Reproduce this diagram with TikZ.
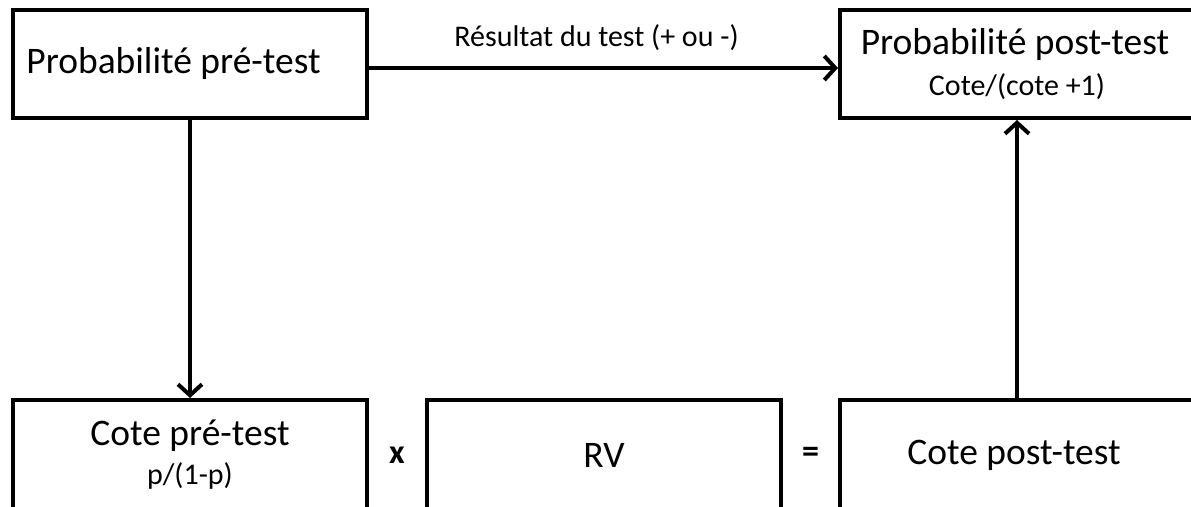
\documentclass[tikz,border=0pt]{standalone}
\usepackage{fontspec}
\setmainfont{Carlito}
\usetikzlibrary{arrows.meta,positioning,calc}

\tikzset{
  boite/.style={rectangle, draw, line width=4pt, minimum width=354pt, minimum height=108pt, inner sep=0pt},
  fleche/.style={line width=4pt, -{Straight Barb[length=11pt,width=24pt,line width=4pt]}},
  grand/.style={font=\fontsize{37.5}{45}\selectfont},
  petit/.style={font=\fontsize{30}{36}\selectfont}
}

\begin{document}
\begin{tikzpicture}[x=1pt,y=-1pt,node distance=278pt]
				\useasboundingbox (0,0) rectangle (1191,506);
				\clip (0,0) rectangle (1191,506);
				\node[boite, grand] (pre) at (190,64) {\hspace*{-33pt}Probabilité pré-test};
				\node[boite, minimum height=110pt, below=of pre, align=center, grand] (cotepre) {Cote pré-test\\[-6pt]{\fontsize{30}{36}\selectfont p/(1-p)}};
				\node[boite, minimum height=110pt, right=56pt of cotepre, grand] (rv) {RV};
				\node[boite, minimum height=110pt, right=55pt of rv, grand] (cotepost) {\hspace*{-6pt}Cote post-test};
				\node[boite, above=of cotepost, align=center, grand] (post) {\hspace*{-4pt}Probabilité post-test\\[-4pt]{\fontsize{30}{36}\selectfont Cote/(cote +1)}};
				
				\node[font=\fontsize{34}{40}\selectfont\bfseries] (fois) at ($(cotepre.east)!0.5!(rv.west)$) {x};
				\node[font=\fontsize{34}{40}\selectfont\bfseries] (egal) at ($(rv.east)!0.5!(cotepost.west)$) {=};
				
				\draw[fleche] ([yshift=-4pt]pre.east) -- node[above=12pt, xshift=-7pt, petit] {Résultat du test (+ ou -)} ([yshift=-4pt]pre.east -| post.west);
				\draw[fleche] (pre) -- (cotepre);
				\draw[fleche] (cotepost) -- (post);
			\end{tikzpicture}
\end{document}
